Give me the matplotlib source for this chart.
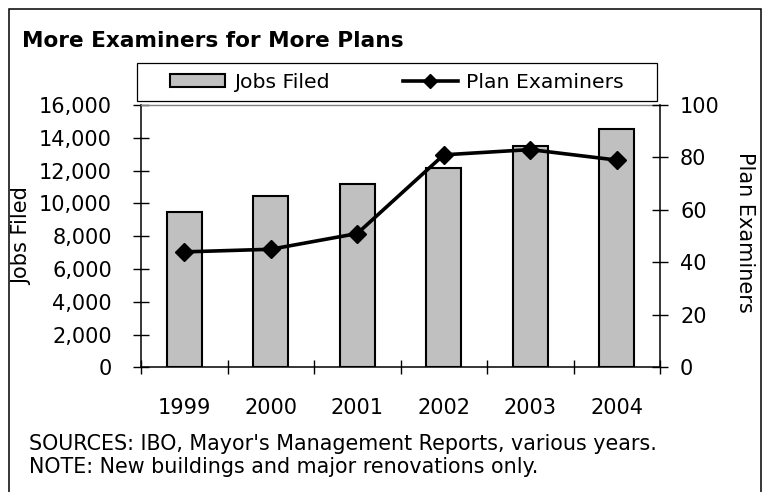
import numpy as np
import matplotlib
matplotlib.use("Agg")
import matplotlib.pyplot as plt
from matplotlib.patches import Rectangle
from matplotlib.ticker import StrMethodFormatter

# data
years = ["1999", "2000", "2001", "2002", "2003", "2004"]
jobs_filed = [9500, 10450, 11200, 12150, 13500, 14550]
plan_examiners = [44, 45, 51, 81, 83, 79]
jobs_ticks = [0, 2000, 4000, 6000, 8000, 10000, 12000, 14000, 16000]
examiner_ticks = [0, 20, 40, 60, 80, 100]

W, H = 763, 492
plt.rcParams["font.family"] = "DejaVu Sans"
fig = plt.figure(figsize=(W / 100, H / 100), dpi=100)


def fx(px):
    return px / W


def fy(py):
    return 1 - py / H


# plot area in pixel terms
left, right, top, bottom = 141, 660, 105, 367.3
ax = fig.add_axes([fx(left), fy(bottom), (right - left) / W, (bottom - top) / H])

x = np.arange(len(years))
ax.bar(x, jobs_filed, width=0.41, color="#c0c0c0", edgecolor="black",
       linewidth=1.5, label="Jobs Filed", zorder=2)
ax.set_xlim(-0.5, len(years) - 0.5)
ax.set_ylim(0, 16000)
ax.set_yticks(jobs_ticks)
ax.yaxis.set_major_formatter(StrMethodFormatter("{x:,.0f}"))
ax.set_xticks(x)
ax.set_xticklabels(years)
ax.set_xticks(np.arange(-0.5, len(years), 1), minor=True)
ax.tick_params(axis="x", which="major", length=0, pad=22, labelsize=15)
ax.tick_params(axis="x", which="minor", direction="inout", length=9.6, width=1)
ax.tick_params(axis="y", direction="inout", length=12.2, width=1, pad=14.8,
               labelsize=15)
ax.spines["right"].set_visible(False)
ax.spines["top"].set_color("#808080")
ax.spines["top"].set_linewidth(1)
ax.spines["left"].set_linewidth(1.1)
ax.spines["bottom"].set_linewidth(1.1)

ax2 = ax.twinx()
ax2.plot(x, plan_examiners, color="black", lw=2.6, marker="D", ms=9,
         label="Plan Examiners", zorder=3)
ax2.set_ylim(0, 100)
ax2.set_yticks(examiner_ticks)
ax2.tick_params(axis="y", direction="inout", length=12.2, width=1, pad=8.3,
                labelsize=15)
for side in ["left", "top", "bottom"]:
    ax2.spines[side].set_visible(False)
ax2.spines["right"].set_linewidth(1.1)

# axis titles
fig.text(fx(12), fy(236), "Jobs Filed", rotation=90, ha="left", va="center",
         fontsize=15)
fig.text(fx(755), fy(232), "Plan Examiners", rotation=270, ha="right",
         va="center", fontsize=15)

# legend inside its own box
h1, l1 = ax.get_legend_handles_labels()
h2, l2 = ax2.get_legend_handles_labels()
fig.legend(h1 + h2, l1 + l2, loc="center", bbox_to_anchor=(fx(397), fy(82)),
           ncol=2, frameon=False, fontsize=14.7, handlelength=2.7,
           handleheight=0.6, handletextpad=0.4, columnspacing=3.6,
           markerscale=0.75)
fig.add_artist(Rectangle((fx(137), fy(101)), (657 - 137) / W, (101 - 63) / H,
                         transform=fig.transFigure, fill=False,
                         edgecolor="black", linewidth=0.9))

# title and notes
fig.text(fx(22), fy(46.7), "More Examiners for More Plans", fontsize=15.6,
         fontweight="bold", va="baseline")
fig.text(fx(29), fy(450),
         "SOURCES: IBO, Mayor's Management Reports, various years.",
         fontsize=14.9, va="baseline")
fig.text(fx(29), fy(473), "NOTE: New buildings and major renovations only.",
         fontsize=14.9, va="baseline")

# outer border, open at the bottom edge
fig.add_artist(Rectangle((fx(9), -0.1), (761 - 9) / W, fy(9) + 0.1,
                         transform=fig.transFigure, fill=False,
                         edgecolor="black", linewidth=1.1))

fig.savefig("out.png", dpi=100)
